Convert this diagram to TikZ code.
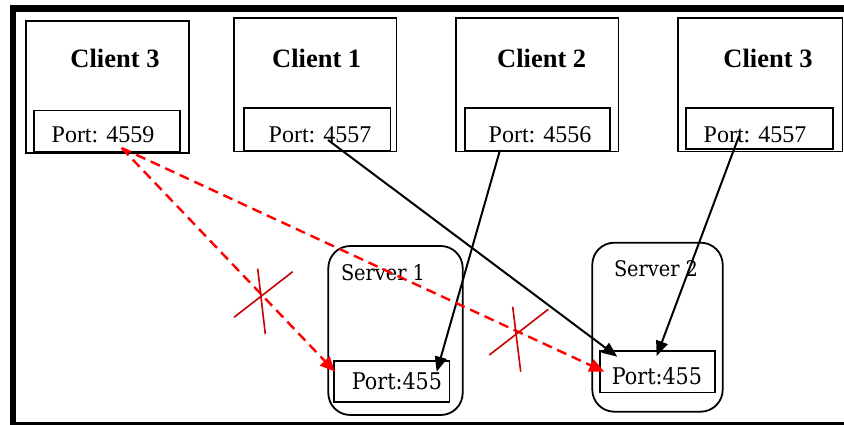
\documentclass[tikz,border=0pt]{standalone}
\usepackage{fontspec}
\setmainfont{Liberation Serif}
\newfontfamily\srvfont{DejaVu Serif Condensed}
\usetikzlibrary{arrows.meta}
\begin{document}
\begin{tikzpicture}[x=1pt,y=-1pt,
  clientbox/.style={draw, line width=1.6pt, inner sep=0pt},
  portbox/.style={draw, line width=1.6pt, inner sep=0pt},
  serverbox/.style={draw, line width=1.8pt, rounded corners=22pt, inner sep=0pt},
  clientlabel/.style={inner sep=0pt, font=\fontsize{26.5}{30}\selectfont\bfseries},
  portlabel/.style={inner sep=0pt, font=\fontsize{24}{28}\selectfont},
  serverlabel/.style={inner sep=0pt, font=\srvfont\fontsize{21.5}{26}\selectfont},
  link/.style={line width=2pt, -{Triangle[length=15pt,width=12pt]}},
  blocked/.style={line width=2.4pt, red, dash pattern=on 10pt off 6pt,
    -{Triangle[length=15pt,width=13pt]}},
  cross/.style={line width=1.6pt, draw={rgb,255:red,200;green,0;blue,0}}]

\useasboundingbox (0,0) rectangle (844,425);

% outer frame
\draw[line width=6.5pt] (13,425) -- (13,8.5) -- (844,8.5);
\draw[line width=3pt] (13,423.5) -- (844,423.5);

% clients
\node[clientbox, minimum width=163pt, minimum height=132pt] (c3l) at (107.5,87) {};
\node[clientbox, minimum width=162.7pt, minimum height=133.4pt] (c1) at (315.3,85) {};
\node[clientbox, minimum width=162.7pt, minimum height=133.4pt] (c2) at (537.3,85) {};
\node[clientbox, minimum width=164.7pt, minimum height=133.4pt] (c3r) at (760.3,85) {};

\node[clientlabel] (c3lt) at (115,58) {Client 3};
\node[clientlabel] (c1t) at (316.7,58) {Client 1};
\node[clientlabel] (c2t) at (541.7,58) {Client 2};
\node[clientlabel] (c3rt) at (768,58) {Client 3};

% client ports
\node[portbox, minimum width=146pt, minimum height=41pt] (p3l) at (107,131.2) {};
\node[portbox, minimum width=146.7pt, minimum height=43pt] (p1) at (317.3,129.5) {};
\node[portbox, minimum width=145pt, minimum height=43pt] (p2) at (537.5,129.5) {};
\node[portbox, minimum width=147pt, minimum height=41pt] (p3r) at (759.5,128.5) {};

\node[portlabel] (p3lt) at (103,135) {Port: 4559};
\node[portlabel] (p1t) at (320,135) {Port: 4557};
\node[portlabel] (p2t) at (540,135) {Port: 4556};
\node[portlabel] (p3rt) at (755,135) {Port: 4557};

% servers
\node[serverbox, minimum width=134.4pt, minimum height=169pt] (s1) at (395.5,330.5) {};
\node[serverbox, minimum width=130.4pt, minimum height=169pt] (s2) at (657.5,327.2) {};

\node[serverlabel] (s1t) at (383,272.7) {Server 1};
\node[serverlabel] (s2t) at (656,268.3) {Server 2};

\node[portbox, minimum width=115.3pt, minimum height=41pt] (q1) at (391.7,381.2) {};
\node[portbox, minimum width=115pt, minimum height=41.3pt] (q2) at (657.5,371.7) {};

\node[serverlabel, font=\srvfont\fontsize{23}{27}\selectfont] (q1t) at (397,380.7) {Port:455};
\node[serverlabel, font=\srvfont\fontsize{23}{27}\selectfont] (q2t) at (657,376) {Port:455};

% connector end points
\coordinate (a3l) at (121.7,148);
\coordinate (a1) at (328,140);
\coordinate (a2) at (500,150);
\coordinate (a3r) at (739,136);
\coordinate (e1red) at (335,371.7);
\coordinate (e1blk) at (436.7,371.7);
\coordinate (e2red) at (604.3,371.7);
\coordinate (e2c1) at (617.3,356.7);
\coordinate (e2c3) at (656.7,356);

% accepted connections
\draw[link] (a1) -- (e2c1);
\draw[link] (a2) -- (e1blk);
\draw[link] (a3r) -- (e2c3);

% refused connections
\draw[blocked] (a3l) -- (e1red);
\draw[blocked] (a3l) -- (e2red);

% crosses over the refused connections
\coordinate (x1a) at (234,317.3);
\coordinate (x1b) at (292.7,271.7);
\coordinate (x1c) at (257.7,268.7);
\coordinate (x1d) at (265.3,334);
\draw[cross] (x1a) -- (x1b);
\draw[cross] (x1c) -- (x1d);
\coordinate (x2a) at (489.3,355);
\coordinate (x2b) at (548.3,309.3);
\coordinate (x2c) at (512.7,306.7);
\coordinate (x2d) at (520.7,371.7);
\draw[cross] (x2a) -- (x2b);
\draw[cross] (x2c) -- (x2d);
\end{tikzpicture}
\end{document}
